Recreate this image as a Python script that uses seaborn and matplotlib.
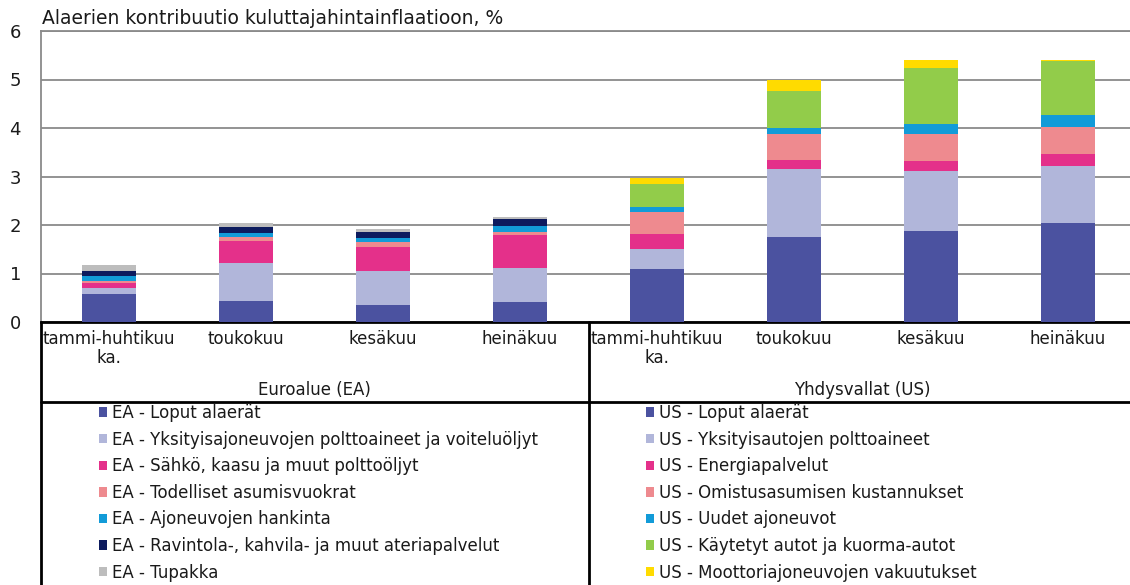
import pandas as pd
import matplotlib.pyplot as plt
import seaborn as sns
from matplotlib.patches import Patch
from matplotlib.lines import Line2D
import matplotlib.transforms as mtransforms

# --- CONFIG ---
sns.set_theme(style="white")
plt.rcParams['font.family'] = ['DejaVu Sans']
TEXT = "#1a1a1a"

# --- DATA ---
kuukaudet = ["tammi-huhtikuu\nka.", "toukokuu", "kesäkuu", "heinäkuu"]
alueet = ["Euroalue (EA)", "Yhdysvallat (US)"]

ea_nimet = ["EA - Loput alaerät",
            "EA - Yksityisajoneuvojen polttoaineet ja voiteluöljyt",
            "EA - Sähkö, kaasu ja muut polttoöljyt",
            "EA - Todelliset asumisvuokrat",
            "EA - Ajoneuvojen hankinta",
            "EA - Ravintola-, kahvila- ja muut ateriapalvelut",
            "EA - Tupakka"]
us_nimet = ["US - Loput alaerät",
            "US - Yksityisautojen polttoaineet",
            "US - Energiapalvelut",
            "US - Omistusasumisen kustannukset",
            "US - Uudet ajoneuvot",
            "US - Käytetyt autot ja kuorma-autot",
            "US - Moottoriajoneuvojen vakuutukset"]

ea_loput      = [0.58, 0.43, 0.36, 0.41]
ea_polttoaine = [0.13, 0.79, 0.70, 0.71]
ea_sahko      = [0.10, 0.46, 0.48, 0.67]
ea_vuokrat    = [0.04, 0.08, 0.10, 0.07]
ea_ajoneuvot  = [0.10, 0.08, 0.09, 0.12]
ea_ravintola  = [0.10, 0.11, 0.13, 0.14]
ea_tupakka    = [0.12, 0.10, 0.06, 0.05]

us_loput      = [1.09, 1.76, 1.88, 2.05]
us_polttoaine = [0.41, 1.39, 1.24, 1.17]
us_energia    = [0.31, 0.20, 0.20, 0.24]
us_asuminen   = [0.46, 0.52, 0.56, 0.57]
us_uudet      = [0.10, 0.12, 0.20, 0.24]
us_kaytetyt   = [0.48, 0.77, 1.15, 1.11]
us_vakuutus   = [0.12, 0.24, 0.17, 0.03]

ea_sarjat = [ea_loput, ea_polttoaine, ea_sahko, ea_vuokrat, ea_ajoneuvot, ea_ravintola, ea_tupakka]
us_sarjat = [us_loput, us_polttoaine, us_energia, us_asuminen, us_uudet, us_kaytetyt, us_vakuutus]

ea_varit = ["#4b52a0", "#b1b6da", "#e4308a", "#ee8a8f", "#129bd8", "#0d1b5e", "#bdbdbd"]
us_varit = ["#4b52a0", "#b1b6da", "#e4308a", "#ee8a8f", "#129bd8", "#92cc4a", "#ffdb00"]

# --- LONG TABLE ---
rows = []
for alue, sarjat, varit in [("EA", ea_sarjat, ea_varit), ("US", us_sarjat, us_varit)]:
    for j in range(4):
        kum = 0
        for k, sarja in enumerate(sarjat):
            kum += sarja[j]
            rows.append({'sarake': f"{alue}{j}", 'kerros': k, 'arvo': sarja[j],
                         'kumul': kum, 'vari': varit[k]})
df = pd.DataFrame(rows)
sarakkeet = list(dict.fromkeys(df['sarake']))

# --- FIGURE ---
W, H = 1130, 585
fig = plt.figure(figsize=(11.3, 5.85), dpi=100)
ax = fig.add_axes([40.5 / W, 1 - 322 / H, 1096 / W, 291 / H])

# stacked bars: draw cumulative totals top layer first
for k in reversed(range(7)):
    sub = df[df['kerros'] == k]
    pal = dict(zip(sub['sarake'], sub['vari']))
    sns.barplot(data=sub, x='sarake', y='kumul', hue='sarake', order=sarakkeet,
                palette=pal, legend=False, width=0.4, saturation=1, ax=ax,
                linewidth=0, zorder=3)

ax.set_ylim(0, 6)
ax.set_xlim(-0.5, 7.5)
ax.set_yticks(range(7))
ax.yaxis.grid(True, color='#8a8a8a', linewidth=1.3, zorder=0)
ax.set_axisbelow(True)
ax.set_xlabel('')
ax.set_ylabel('')
ax.set_xticks(range(8))
ax.set_xticklabels(kuukaudet * 2, fontsize=12, color=TEXT, linespacing=1.05)
ax.tick_params(axis='x', length=0, pad=6)
ax.tick_params(axis='y', length=0, pad=14, labelsize=13, labelcolor=TEXT)
for side in ['left', 'top']:
    ax.spines[side].set_color('#8a8a8a')
    ax.spines[side].set_linewidth(1.3)
ax.spines['right'].set_visible(False)
ax.spines['bottom'].set_color('black')
ax.spines['bottom'].set_linewidth(2)

# group labels
trans = mtransforms.blended_transform_factory(ax.transData, ax.transAxes)
for i, alue in enumerate(alueet):
    ax.text(1.5 + 4 * i, -0.234, alue, transform=trans, ha='center', va='center',
            fontsize=12, color=TEXT)

# table lines
def fig_line(x0, y0, x1, y1):
    fig.add_artist(Line2D([x0 / W, x1 / W], [1 - y0 / H, 1 - y1 / H],
                          color='black', linewidth=2))

fig_line(40.5, 322, 40.5, 585)
fig_line(588.5, 322, 588.5, 585)
fig_line(40.5, 402, 1130, 402)

# title
fig.text(42 / W, 1 - 18 / H, "Alaerien kontribuutio kuluttajahintainflaatioon, %",
         fontsize=13.5, color=TEXT, va='center', ha='left')

# legends
for nimet, varit, x0 in [(ea_nimet, ea_varit, 99), (us_nimet, us_varit, 646)]:
    handles = [Patch(facecolor=c, edgecolor='none', label=n) for n, c in zip(nimet, varit)]
    leg = fig.legend(handles=handles, loc='upper left', bbox_to_anchor=(x0 / W, 1 - 404 / H),
                     frameon=False, fontsize=12, handlelength=0.5, handleheight=0.5,
                     handletextpad=0.3, labelspacing=0.515, borderpad=0, borderaxespad=0)
    for t in leg.get_texts():
        t.set_color(TEXT)

plt.savefig('out.png', dpi=100)
plt.close()
